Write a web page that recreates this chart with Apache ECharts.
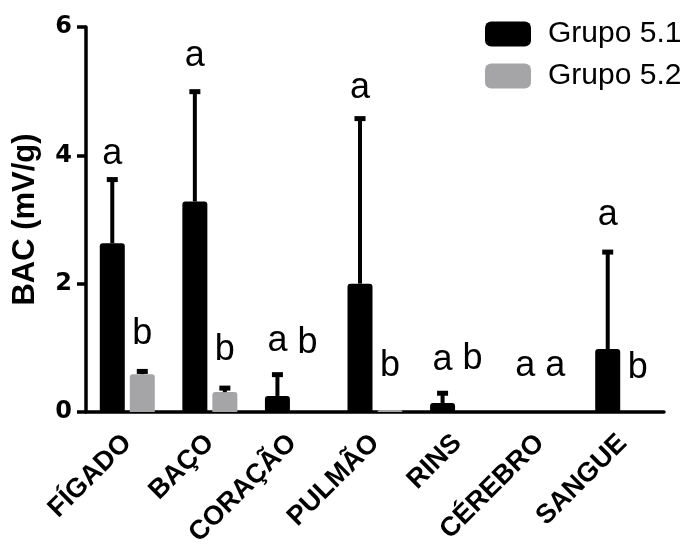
<!DOCTYPE html>
<html>
<head>
<meta charset="utf-8">
<script src="https://cdn.jsdelivr.net/npm/echarts@6/dist/echarts.min.js"></script>
<style>
  html, body { margin: 0; padding: 0; background: #fff; }
  #chart { width: 693px; height: 544px; }
</style>
</head>
<body>
<div id="chart"></div>
<script>
// dados
var categorias = ["FÍGADO", "BAÇO", "CORAÇÃO", "PULMÃO", "RINS", "CÉREBRO", "SANGUE"];
var grupo51 = [2.63, 3.28, 0.25, 2.0, 0.14, 0, 0.98];
var grupo51Erro = [3.63, 5.0, 0.59, 4.58, 0.3, 0, 2.5];     // topo da barra de erro
var grupo52 = [0.59, 0.31, 0, 0.03, 0, 0, 0];
var grupo52Erro = [0.64, 0.38, 0, 0.03, 0, 0, 0];
var letras51 = ["a", "a", "a", "a", "a", "a", "a"];
var letras52 = ["b", "b", "b", "b", "b", "a", "b"];
var alturaLetra51 = [3.87, 5.39, 0.95, 4.9, 0.65, 0.56, 2.91];   // linha de base das letras
var alturaLetra52 = [1.06, 0.81, 0.92, 0.56, 0.67, 0.56, 0.53];
var yTicks = [0, 2, 4, 6];

var FONTE = "'Liberation Sans', Arial, sans-serif";
var COR1 = "#000000";
var COR2 = "#a5a5a8";

function serieErro(nome, valores, erros, letras, alturas, deslocamento) {
    var dados = categorias.map(function (c, i) {
        return [i, valores[i], erros[i], alturas[i]];
    });
    return {
        name: nome + "_erro",
        type: "custom",
        silent: true,
        z: 5,
        data: dados,
        renderItem: function (params, api) {
            var i = api.value(0);
            var base = api.coord([i, api.value(1)]);
            var topo = api.coord([i, api.value(2)]);
            var letra = api.coord([i, api.value(3)]);
            var x = base[0] + deslocamento;
            var filhos = [];
            if (api.value(2) > api.value(1)) {
                filhos.push({
                    type: "rect",
                    shape: { x: x - 2, y: topo[1], width: 4, height: base[1] - topo[1] },
                    style: { fill: "#000" }
                });
                filhos.push({
                    type: "rect",
                    shape: { x: x - 5.5, y: topo[1] - 2, width: 11, height: 5 },
                    style: { fill: "#000" }
                });
            }
            filhos.push({
                type: "text",
                x: x,
                y: letra[1] + 8,
                style: {
                    text: letras[params.dataIndex],
                    fontFamily: FONTE,
                    fontSize: 36,
                    fill: "#000",
                    align: "center",
                    verticalAlign: "bottom"
                }
            });
            return { type: "group", children: filhos };
        }
    };
}

var myChart = echarts.init(document.getElementById("chart"), null, { renderer: "canvas" });

myChart.setOption({
    animation: false,
    backgroundColor: "#fff",
    textStyle: { fontFamily: FONTE },
    grid: { left: 86, right: 29, top: 27, bottom: 132, outerBoundsMode: "none", containLabel: false },
    legend: {
        orient: "vertical",
        left: 480,
        top: 14,
        itemWidth: 46,
        itemHeight: 25,
        itemGap: 12,
        icon: "roundRect",
        data: ["Grupo 5.1", "Grupo 5.2"],
        textStyle: { fontSize: 30, color: "#000", fontFamily: FONTE, padding: [0, 0, 0, 12] }
    },
    xAxis: {
        type: "category",
        data: categorias,
        axisLine: { lineStyle: { color: "#000", width: 3.5 } },
        axisTick: { alignWithLabel: true, length: 10, lineStyle: { color: "#000", width: 3.5 } },
        axisLabel: {
            rotate: 45,
            margin: 27,
            color: "#000",
            fontWeight: "bold",
            fontSize: 27,
            fontFamily: FONTE,
            interval: 0
        }
    },
    yAxis: {
        type: "value",
        min: yTicks[0],
        max: yTicks[yTicks.length - 1],
        interval: 2,
        name: "BAC (mV/g)",
        nameLocation: "middle",
        nameGap: 45,
        nameTextStyle: { color: "#000", fontWeight: "bold", fontSize: 31, fontFamily: FONTE },
        splitLine: { show: false },
        axisLine: { show: true, lineStyle: { color: "#000", width: 3.5 } },
        axisTick: { show: true, length: 9, lineStyle: { color: "#000", width: 3.5 } },
        axisLabel: { color: "#000", fontWeight: "bold", fontSize: 24, fontFamily: "'DejaVu Sans', sans-serif", margin: 14 }
    },
    series: [{
        name: "Grupo 5.1",
        type: "bar",
        data: grupo51,
        barWidth: 25,
        barGap: "20%",
        itemStyle: { color: COR1, borderRadius: [3, 3, 0, 0] }
    }, {
        name: "Grupo 5.2",
        type: "bar",
        data: grupo52,
        barWidth: 25,
        itemStyle: { color: COR2, borderRadius: [3, 3, 0, 0] }
    },
    serieErro("Grupo 5.1", grupo51, grupo51Erro, letras51, alturaLetra51, -15),
    serieErro("Grupo 5.2", grupo52, grupo52Erro, letras52, alturaLetra52, 15)
    ]
});
</script>
</body>
</html>
